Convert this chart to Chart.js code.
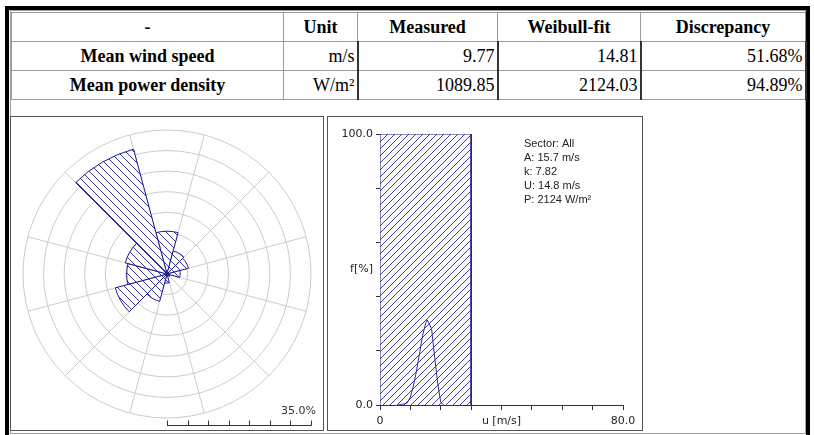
<!DOCTYPE html>
<html>
<head>
<meta charset="utf-8">
<script src="https://cdn.jsdelivr.net/npm/chart.js@4.4.1/dist/chart.umd.min.js"></script>
<style>
html,body{margin:0;padding:0;background:#fff;width:814px;height:435px;overflow:hidden;position:relative;}
#frame{position:absolute;left:5px;top:6px;width:805px;height:440px;border:4px solid #000;border-bottom:none;box-sizing:border-box;}
#box{position:absolute;left:10px;top:10px;width:796px;height:424px;border:1px solid #a0a0a0;box-sizing:border-box;}
#tbl{position:absolute;left:11px;top:12px;width:794px;border-collapse:collapse;table-layout:fixed;font-family:'Liberation Serif','Times New Roman',serif;font-size:18px;color:#000;}
#tbl td,#tbl th{border:1px solid #9a9a9a;padding:0 2px;white-space:nowrap;overflow:hidden;}
#tbl tr{height:29px;}
#tbl th{font-weight:bold;text-align:center;}
#tbl td.lab{font-weight:bold;text-align:center;}
#tbl td.v{text-align:right;border-right:2px solid #333;}
.panel{position:absolute;top:116px;height:315px;border:1px solid #555;box-sizing:border-box;background:#fff;}
#p1{left:10px;width:314px;}
#p2{left:327px;width:316px;}
canvas{display:block;}
</style>
</head>
<body>
<div id="frame"></div>
<div id="box"></div>
<table id="tbl">
<colgroup><col style="width:272px"><col style="width:74px"><col style="width:140px"><col style="width:143px"><col style="width:165px"></colgroup>
<thead><tr id="hdr"></tr></thead>
<tbody id="tbody"></tbody>
</table>
<div id="p1" class="panel"><canvas id="rose" width="312" height="313" style="width:312px;height:313px"></canvas></div>
<div id="p2" class="panel"><canvas id="hist" width="314" height="313" style="width:314px;height:313px"></canvas></div>
<script>
// ---- Table data ----
const tableHeaders = ['-', 'Unit', 'Measured', 'Weibull-fit', 'Discrepancy'];
const quantities = ['Mean wind speed', 'Mean power density'];
const units = ['m/s', 'W/m²'];
const measured = ['9.77', '1089.85'];
const weibullFit = ['14.81', '2124.03'];
const discrepancy = ['51.68%', '94.89%'];

// ---- Wind rose data (sector centre angle, frequency %) ----
const roseDirs = ['0°','30°','60°','90°','120°','150°','180°','210°','240°','270°','300°','330°'];
const roseFreq = [10.4, 5.8, 5.4, 3.2, 0.8, 0.6, 2.2, 6.9, 13.0, 9.8, 10.5, 31.4];
const roseMax = 35;
const roseStep = 5;

// ---- Histogram data ----
const binStart = [0];
const binEnd = [30];
const binFreq = [100];
const weibullU = [6, 7, 8, 9, 10, 11, 12, 13, 14, 15, 15.5, 16, 17, 18, 19, 20, 21];
const weibullF = [0, 0.2, 0.4, 0.8, 3, 7, 12.5, 19, 25.5, 30, 31.4, 30.5, 28, 17.5, 8, 1, 0];
const xLabelValues = [0, 40, 80];
const xLabelTexts = ['0', 'u [m/s]', '80.0'];
const yLabelValues = [0, 100];
const yLabelTexts = ['0.0', '100.0'];
const yAxisTitle = 'f[%]';
const infoLines = ['Sector: All', 'A: 15.7 m/s', 'k: 7.82', 'U: 14.8 m/s', 'P: 2124 W/m²'];

// ---- build table ----
const hdr = document.getElementById('hdr');
tableHeaders.forEach(h => { const th = document.createElement('th'); th.textContent = h; hdr.appendChild(th); });
const tb = document.getElementById('tbody');
quantities.forEach((q, i) => {
  const tr = document.createElement('tr');
  const cells = [[q,'lab'],[units[i],'v'],[measured[i],'v'],[weibullFit[i],'v'],[discrepancy[i],'v']];
  cells.forEach(([t,c]) => { const td = document.createElement('td'); td.textContent = t; td.className = c; tr.appendChild(td); });
  tb.appendChild(tr);
});

// ---- hatch patterns ----
function makeHatch(dir, s, color) {
  const c = document.createElement('canvas');
  c.width = s; c.height = s;
  const g = c.getContext('2d');
  g.fillStyle = '#fff'; g.fillRect(0, 0, s, s);
  g.strokeStyle = color; g.lineWidth = 1;
  g.beginPath();
  if (dir === '\\') {
    g.moveTo(-1, -1); g.lineTo(s + 1, s + 1);
    g.moveTo(-1, s - 1); g.lineTo(1, s + 1);
    g.moveTo(s - 1, -1); g.lineTo(s + 1, 1);
  } else {
    g.moveTo(-1, s + 1); g.lineTo(s + 1, -1);
    g.moveTo(-1, 1); g.lineTo(1, -1);
    g.moveTo(s - 1, s + 1); g.lineTo(s + 1, s - 1);
  }
  g.stroke();
  return g.createPattern(c, 'repeat');
}
const navy = '#1c1c8c';
const rosePattern = makeHatch('\\', 8, '#3636a8');
const histPattern = makeHatch('/', 7, '#3e3eb0');

Chart.defaults.font.family = "'DejaVu Sans', sans-serif";
Chart.defaults.font.size = 11;
Chart.defaults.color = '#222';

// ---- wind rose ----
const roseScaleBar = {
  id: 'roseScaleBar',
  afterDraw(chart) {
    const s = chart.scales.r;
    const ctx = chart.ctx;
    const x0 = s.xCenter, x1 = s.xCenter + s.drawingArea;
    const y = s.yCenter + s.drawingArea + 7.5;
    ctx.save();
    ctx.strokeStyle = '#333'; ctx.lineWidth = 1;
    ctx.beginPath();
    ctx.moveTo(x0, y); ctx.lineTo(x1 + 0.5, y);
    s.ticks.forEach(t => {
      const x = Math.round(s.xCenter + s.getDistanceFromCenterForValue(t.value)) + 0.5;
      ctx.moveTo(x, y); ctx.lineTo(x, y - 5);
    });
    ctx.stroke();
    ctx.fillStyle = '#333';
    ctx.font = "11px 'DejaVu Sans'";
    ctx.textAlign = 'right'; ctx.textBaseline = 'alphabetic';
    ctx.fillText(roseMax.toFixed(1) + '%', x1 + 5, s.yCenter + s.drawingArea - 4);
    ctx.restore();
  }
};

new Chart(document.getElementById('rose'), {
  type: 'polarArea',
  data: {
    labels: roseDirs,
    datasets: [{ data: roseFreq, backgroundColor: rosePattern, borderColor: navy, borderWidth: 1 }]
  },
  options: {
    responsive: false, animation: false, devicePixelRatio: 1,
    layout: { padding: { left: 12, right: 12, top: 13, bottom: 12 } },
    plugins: { legend: { display: false }, tooltip: { enabled: false } },
    scales: {
      r: {
        min: 0, max: roseMax, startAngle: -15,
        ticks: { stepSize: roseStep, display: false },
        grid: { color: '#cccccc', circular: true, lineWidth: 1 },
        angleLines: { display: true, color: '#cccccc', lineWidth: 1 },
        pointLabels: { display: false }
      }
    }
  },
  plugins: [roseScaleBar]
});

// ---- histogram ----
function labelFor(v, vals, texts) {
  const i = vals.indexOf(v);
  return i >= 0 ? texts[i] : '';
}
const histText = {
  id: 'histText',
  afterDraw(chart) {
    const { ctx, chartArea: a } = chart;
    ctx.save();
    ctx.fillStyle = '#222';
    ctx.font = "11px 'DejaVu Sans'";
    ctx.textAlign = 'right'; ctx.textBaseline = 'middle';
    ctx.fillText(yAxisTitle, a.left - 7, (a.top + a.bottom) / 2);
    ctx.font = "11px 'Liberation Sans'";
    ctx.textAlign = 'left';
    infoLines.forEach((t, i) => ctx.fillText(t, a.left + 144, a.top + 9.5 + i * 14));
    ctx.restore();
  }
};

// histogram bins as closed outlines (start,0)->(start,f)->(end,f)->(end,0)
const binOutline = [];
binStart.forEach((s, i) => {
  binOutline.push({ x: s, y: 0 }, { x: s, y: binFreq[i] }, { x: binEnd[i], y: binFreq[i] }, { x: binEnd[i], y: 0 });
});

new Chart(document.getElementById('hist'), {
  type: 'line',
  data: {
    datasets: [
      { data: weibullU.map((u, i) => ({ x: u, y: weibullF[i] })),
        borderColor: '#2e2ea0', borderWidth: 1, pointRadius: 0, tension: 0, fill: false, order: 0 },
      { data: binOutline,
        backgroundColor: histPattern, borderColor: navy, borderWidth: 1, pointRadius: 0, tension: 0,
        fill: 'origin', order: 1 }
    ]
  },
  options: {
    responsive: false, animation: false, devicePixelRatio: 1,
    layout: { padding: { left: 0, right: 19, top: 17, bottom: 0 } },
    plugins: { legend: { display: false }, tooltip: { enabled: false } },
    scales: {
      x: {
        type: 'linear', min: 0, max: 80, offset: false,
        ticks: { stepSize: 10, autoSkip: false, maxRotation: 0, padding: 5, color: '#222',
                 callback: v => labelFor(v, xLabelValues, xLabelTexts) },
        grid: { drawOnChartArea: false, drawTicks: true, tickLength: 5, color: '#333' },
        border: { display: true, color: '#333' },
        afterFit: s => { s.height = 25; }
      },
      y: {
        type: 'linear', min: 0, max: 100,
        ticks: { stepSize: 20, autoSkip: false, padding: 3, color: '#222',
                 callback: v => labelFor(v, yLabelValues, yLabelTexts) },
        grid: { drawOnChartArea: false, drawTicks: true, tickLength: 4, color: '#333' },
        border: { display: true, color: '#333' },
        afterFit: s => { s.width = 52; }
      }
    }
  },
  plugins: [histText]
});
</script>
</body>
</html>
